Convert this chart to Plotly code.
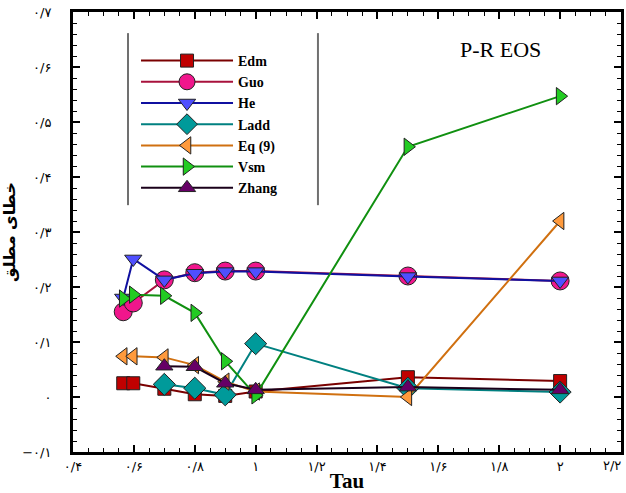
import plotly.graph_objects as go

tau_full = [0.565, 0.598, 0.7, 0.8, 0.9, 1.0, 1.5, 2.0]
tau_late = [0.7, 0.8, 0.9, 1.0, 1.5, 2.0]

edm = [0.025, 0.025, 0.015, 0.005, 0.002, 0.010, 0.036, 0.029]
guo = [0.155, 0.171, 0.213, 0.226, 0.229, 0.229, 0.220, 0.211]
he = [0.180, 0.251, 0.213, 0.225, 0.228, 0.228, 0.219, 0.211]
ladd = [0.023, 0.016, 0.004, 0.097, 0.016, 0.009]
eq9 = [0.074, 0.074, 0.072, 0.058, 0.028, 0.010, 0.000, 0.320]
vsm = [0.179, 0.186, 0.184, 0.153, 0.065, 0.003, 0.455, 0.547]
zhang = [0.056, 0.055, 0.025, 0.013, 0.018, 0.013]

y_tickvals = [-0.1, 0, 0.1, 0.2, 0.3, 0.4, 0.5, 0.6, 0.7]
y_ticktext = ["−۰/۱", "۰", "۰/۱", "۰/۲", "۰/۳", "۰/۴", "۰/۵", "۰/۶", "۰/۷"]
x_tickvals = [0.4, 0.6, 0.8, 1.0, 1.2, 1.4, 1.6, 1.8, 2.0, 2.2]
x_ticktext = ["۰/۴", "۰/۶", "۰/۸", "۱", "۱/۲", "۱/۴", "۱/۶", "۱/۸", "۲", "۲/۲"]

series = [
    ("Edm", tau_full, edm, "square", 13, "#C00000", "#7A0000"),
    ("Guo", tau_full, guo, "circle", 18, "#F0168C", "#A8123C"),
    ("He", tau_full, he, "triangle-down", 15, "#4F4FFF", "#1010A0"),
    ("Ladd", tau_late, ladd, "diamond", 17, "#009A9A", "#008080"),
    ("Eq (9)", tau_full, eq9, "triangle-left", 15, "#FF9A3C", "#D07010"),
    ("Vsm", tau_full, vsm, "triangle-right", 15, "#22CC22", "#109010"),
    ("Zhang", tau_late, zhang, "triangle-up", 15, "#660066", "#1A001A"),
]

fig = go.Figure()
for name, xs, ys, sym, size, mcol, lcol in series:
    fig.add_trace(go.Scatter(
        x=xs, y=ys, name=name, mode="lines+markers",
        line=dict(color=lcol, width=2),
        marker=dict(symbol=sym, size=size, color=mcol,
                    line=dict(color="#222222", width=1)),
    ))

tick_font = dict(family="DejaVu Sans", size=13, color="black")
axis_common = dict(
    showline=True, linecolor="black", linewidth=3, mirror="ticks",
    ticks="inside", ticklen=7, tickwidth=2, tickcolor="black",
    showgrid=False, zeroline=False, automargin=False,
    tickfont=tick_font,
)

# last x label is placed as a right-anchored annotation so it stays inside the page
fig.update_xaxes(
    range=[0.4, 2.2], tickvals=x_tickvals, ticktext=x_ticktext[:-1] + [""],
    minor=dict(ticks="inside", dtick=0.05, tick0=0.4, ticklen=4, tickwidth=1, tickcolor="black"),
    title=dict(text="<b>Tau</b>", font=dict(family="Liberation Serif", size=21, color="black"), standoff=5),
    **axis_common,
)
fig.add_annotation(
    text=x_ticktext[-1], xref="x", x=x_tickvals[-1], yref="paper", y=0,
    xanchor="right", yanchor="top", xshift=2, yshift=-4, showarrow=False,
    font=tick_font,
)
fig.update_yaxes(
    range=[-0.1, 0.7], tickvals=y_tickvals, ticktext=y_ticktext,
    minor=dict(ticks="inside", dtick=0.02, tick0=0, ticklen=4, tickwidth=1, tickcolor="black"),
    ticklabelstandoff=16,
    title=dict(text="<b>خطای مطلق</b>", font=dict(family="DejaVu Sans", size=16, color="black"), standoff=3),
    **axis_common,
)

fig.add_annotation(
    text="P-R EOS", xref="paper", yref="paper", x=0.78, y=0.915,
    xanchor="center", yanchor="middle", showarrow=False,
    font=dict(family="Liberation Serif", size=22, color="black"),
)

for xp in [0.1004, 0.447]:
    fig.add_shape(type="line", xref="paper", yref="paper",
                  x0=xp, x1=xp, y0=0.561, y1=0.952,
                  line=dict(color="#707070", width=2))

fig.update_layout(
    width=626, height=493,
    margin=dict(l=73, r=5, t=12, b=41, autoexpand=False),
    paper_bgcolor="white", plot_bgcolor="white",
    showlegend=True,
    legend=dict(
        x=0.115, y=0.925, xanchor="left", yanchor="top",
        bgcolor="rgba(0,0,0,0)", borderwidth=0,
        font=dict(family="Liberation Serif", size=14, color="black", weight="bold"),
        itemwidth=92, tracegroupgap=0,
    ),
)

fig.write_html("out.html")
